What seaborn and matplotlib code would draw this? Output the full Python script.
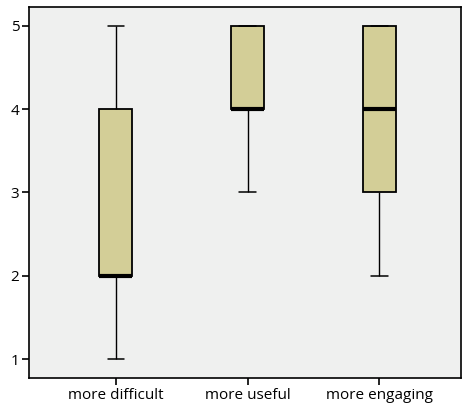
import matplotlib
matplotlib.use("Agg")
import matplotlib.pyplot as plt
import seaborn as sns
import pandas as pd

categories = ["more difficult", "more useful", "more engaging"]
more_difficult = [1, 2, 2, 2, 4, 4, 5]
more_useful = [3, 4, 4, 4, 5, 5, 5]
more_engaging = [2, 3, 3, 4, 5, 5, 5]
y_ticks = [1, 2, 3, 4, 5]

df = pd.DataFrame({
    "item": [categories[0]] * len(more_difficult) + [categories[1]] * len(more_useful) + [categories[2]] * len(more_engaging),
    "score": more_difficult + more_useful + more_engaging,
})

sns.set_style("white")
plt.rcParams["font.family"] = ["Open Sans", "DejaVu Sans"]

fig = plt.figure(figsize=(4.62, 4.16), dpi=100)
ax = fig.add_axes([29 / 462, 1 - 378 / 416, (461 - 29) / 462, (378 - 7) / 416])
ax.set_facecolor("#EFF0EF")

sns.boxplot(data=df, x="item", y="score", order=categories, ax=ax,
            color="#D3CE97", saturation=1, width=0.25, whis=10,
            linecolor="black", linewidth=1.3,
            medianprops=dict(color="black", linewidth=3),
            whiskerprops=dict(linewidth=1.0),
            capprops=dict(linewidth=1.1),
            boxprops=dict(facecolor="#D3CE97", edgecolor="black"))

ax.set_xlim(-0.66, 2.62)
ax.set_ylim(0.772, 5.228)
ax.set_yticks(y_ticks)
ax.set_yticklabels([str(t) for t in y_ticks])
ax.set_xlabel("")
ax.set_ylabel("")
for s in ax.spines.values():
    s.set_color("black")
    s.set_linewidth(1.2)
ax.tick_params(axis="both", direction="out", length=5, width=1.2, color="black",
               labelsize=11, labelcolor="black", pad=2, left=True, bottom=True)

fig.savefig("out.png", dpi=100)
